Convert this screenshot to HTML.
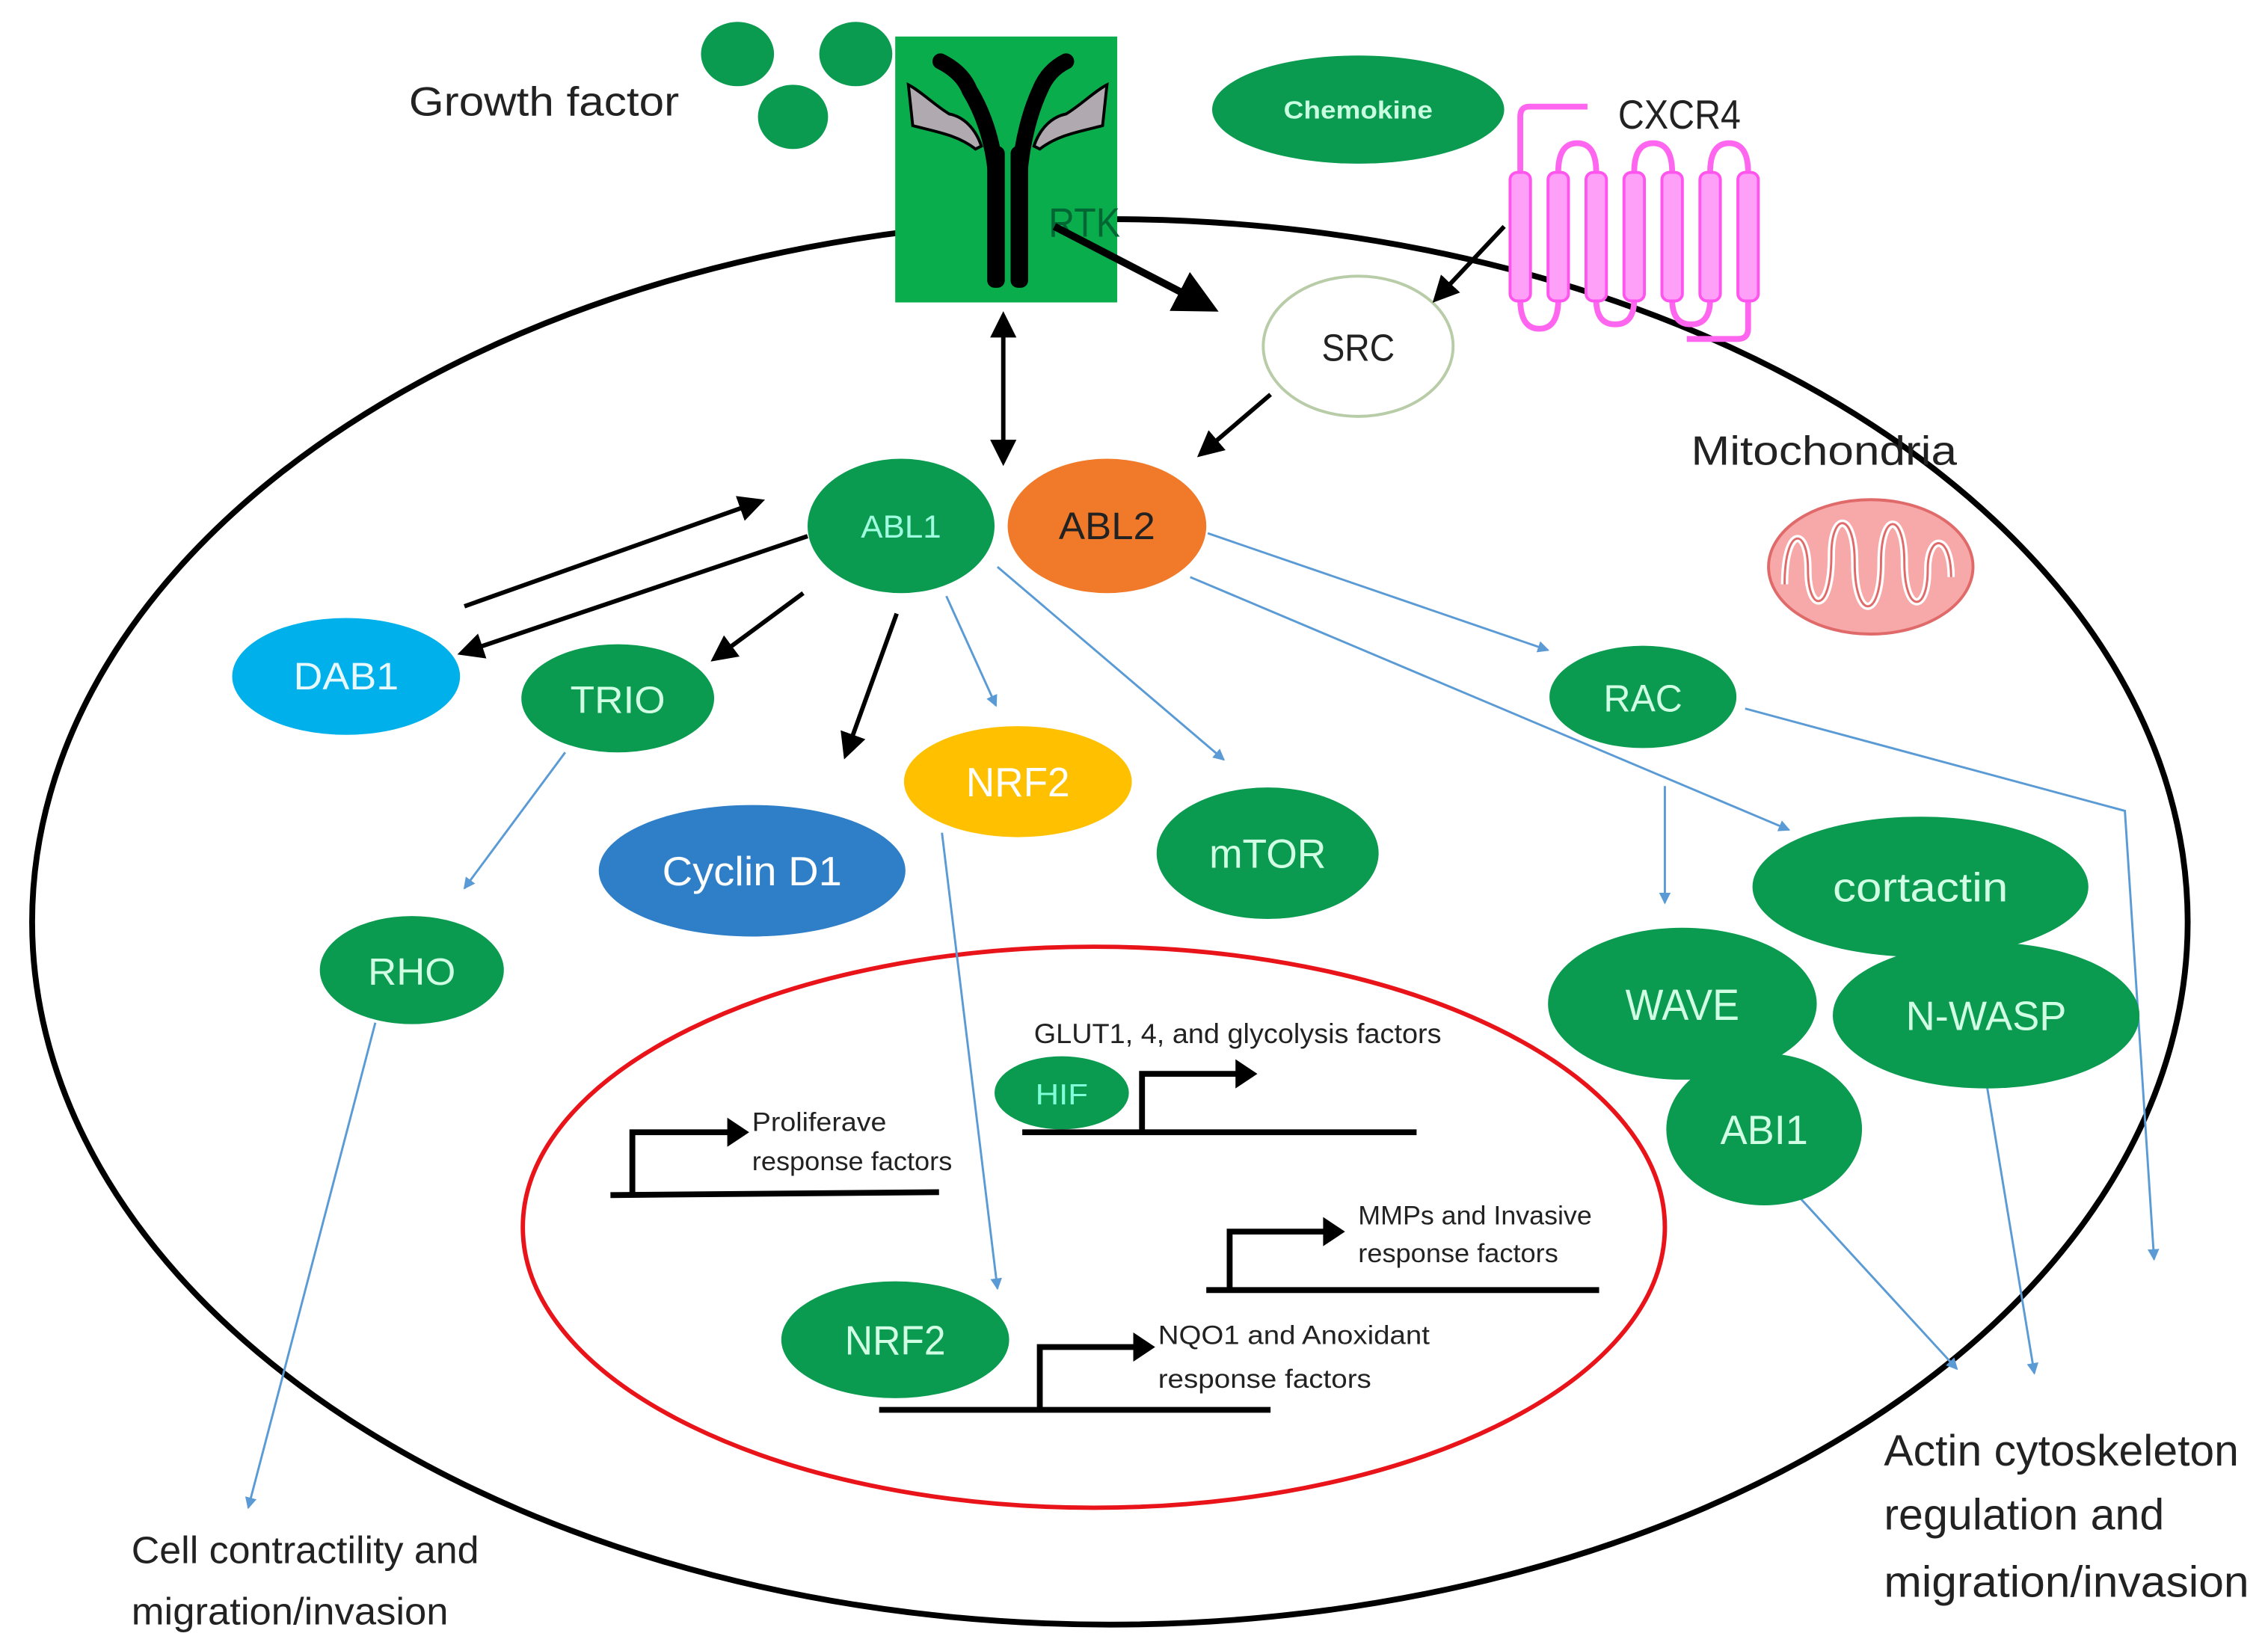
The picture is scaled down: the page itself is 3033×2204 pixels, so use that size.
<!DOCTYPE html>
<html><head><meta charset="utf-8"><style>
html,body{margin:0;padding:0;background:#fff;}
svg{display:block;}
text{font-family:"Liberation Sans Narrow","Liberation Sans",sans-serif;}
</style></head><body>
<svg width="3033" height="2204" viewBox="0 0 1553 1128" preserveAspectRatio="none" xmlns="http://www.w3.org/2000/svg">
<defs>
<marker id="ab" markerWidth="6" markerHeight="6" refX="5" refY="3" orient="auto" markerUnits="strokeWidth"><path d="M0,0 L6,3 L0,6 z" fill="#000"/></marker>
<marker id="ab2" markerWidth="6" markerHeight="6" refX="1" refY="3" orient="auto" markerUnits="strokeWidth"><path d="M6,0 L0,3 L6,6 z" fill="#000"/></marker>
<marker id="bl" markerWidth="8" markerHeight="8" refX="7" refY="4" orient="auto" markerUnits="userSpaceOnUse"><path d="M0,0 L8,4 L0,8 z" fill="#5b9bd5"/></marker>
</defs>
<rect width="1553" height="1128" fill="#fff"/>
<ellipse cx="760" cy="631" rx="738" ry="481" fill="none" stroke="#000" stroke-width="4"/>
<ellipse cx="749" cy="840" rx="391" ry="192" fill="none" stroke="#e8141a" stroke-width="3"/>

<ellipse cx="505" cy="37" rx="25" ry="22" fill="#0a9a50"/>
<ellipse cx="586" cy="37" rx="25" ry="22" fill="#0a9a50"/>
<ellipse cx="543" cy="80" rx="24" ry="22" fill="#0a9a50"/>
<text x="280" y="79" font-size="28" fill="#222" textLength="185" lengthAdjust="spacingAndGlyphs">Growth factor</text>

<rect x="613" y="25" width="152" height="182" fill="#0aad4c"/>
<path d="M622,58 C630,62 640,72 650,78 C660,80 668,88 672,100 L668,102 C655,92 640,90 625,86 Z" fill="#b0aab0" stroke="#000" stroke-width="2"/>
<path d="M758,58 C750,62 740,72 730,78 C720,80 712,88 708,100 L712,102 C725,92 740,90 755,86 Z" fill="#b0aab0" stroke="#000" stroke-width="2"/>
<path d="M682,120 C680,95 672,75 664,62 C660,52 652,46 644,42" fill="none" stroke="#000" stroke-width="11" stroke-linecap="round"/>
<path d="M698,120 C700,95 706,75 712,62 C716,52 722,46 730,42" fill="none" stroke="#000" stroke-width="11" stroke-linecap="round"/>
<rect x="676" y="100" width="12" height="97" rx="5" fill="#000"/>
<rect x="692" y="100" width="12" height="97" rx="5" fill="#000"/>
<text x="718" y="162" font-size="28" fill="#063" textLength="49" lengthAdjust="spacingAndGlyphs">RTK</text>

<ellipse cx="930" cy="75" rx="100" ry="37" fill="#0a9a50"/>
<text x="930" y="81" font-size="17" font-weight="bold" fill="#c8ffe0" text-anchor="middle" textLength="102" lengthAdjust="spacingAndGlyphs">Chemokine</text>
<text x="1108" y="88" font-size="28" fill="#222" textLength="84" lengthAdjust="spacingAndGlyphs">CXCR4</text>
<g fill="none" stroke="#ff66f0" stroke-width="4">
<path d="M1087,73 L1047,73 Q1041,73 1041,80 L1041,118"/>
<path d="M1067,118 Q1067,98 1080,98 Q1093,98 1093,118"/>
<path d="M1119,118 Q1119,98 1132,98 Q1145,98 1145,118"/>
<path d="M1171,118 Q1171,98 1184,98 Q1197,98 1197,118"/>
<path d="M1041,205 Q1041,225 1054,225 Q1067,225 1067,205"/>
<path d="M1093,205 Q1093,222 1106,222 Q1119,222 1119,205"/>
<path d="M1145,205 Q1145,222 1158,222 Q1171,222 1171,205"/>
<path d="M1197,205 L1197,225 Q1197,232 1190,232 L1155,232"/>
</g>
<g fill="#ffa0f8" stroke="#ff55ee" stroke-width="2">
<rect x="1034" y="118" width="14" height="88" rx="5"/>
<rect x="1060" y="118" width="14" height="88" rx="5"/>
<rect x="1086" y="118" width="14" height="88" rx="5"/>
<rect x="1112" y="118" width="14" height="88" rx="5"/>
<rect x="1138" y="118" width="14" height="88" rx="5"/>
<rect x="1164" y="118" width="14" height="88" rx="5"/>
<rect x="1190" y="118" width="14" height="88" rx="5"/>
</g>

<ellipse cx="930" cy="237" rx="65" ry="48" fill="#fff" stroke="#b8cca8" stroke-width="2"/>
<text x="930" y="247" font-size="26" fill="#222" text-anchor="middle" textLength="50" lengthAdjust="spacingAndGlyphs">SRC</text>

<line x1="722" y1="155" x2="830" y2="211" stroke="#000" stroke-width="5" marker-end="url(#ab)"/>
<line x1="1030" y1="155" x2="983" y2="205" stroke="#000" stroke-width="3" marker-end="url(#ab)"/>
<line x1="687" y1="216" x2="687" y2="316" stroke="#000" stroke-width="3" marker-end="url(#ab)" marker-start="url(#ab2)"/>
<line x1="870" y1="270" x2="822" y2="311" stroke="#000" stroke-width="3" marker-end="url(#ab)"/>

<text x="1158" y="318" font-size="28" fill="#222" textLength="182" lengthAdjust="spacingAndGlyphs">Mitochondria</text>
<ellipse cx="1281" cy="388" rx="70" ry="46" fill="#f7a8a8" stroke="#e06a6a" stroke-width="2"/>
<path d="M1222,400 C1222,360 1238,360 1238,390 C1238,420 1254,420 1254,380 C1254,350 1270,350 1270,385 C1270,425 1288,425 1288,385 C1288,350 1304,350 1304,385 C1304,420 1320,420 1320,390 C1320,365 1336,365 1336,395" fill="none" stroke="#fff" stroke-width="5"/>
<path d="M1222,400 C1222,360 1238,360 1238,390 C1238,420 1254,420 1254,380 C1254,350 1270,350 1270,385 C1270,425 1288,425 1288,385 C1288,350 1304,350 1304,385 C1304,420 1320,420 1320,390 C1320,365 1336,365 1336,395" fill="none" stroke="#e06a6a" stroke-width="1.5"/>

<g stroke="#5b9bd5" stroke-width="1.5" fill="none" marker-end="url(#bl)">
<line x1="648" y1="408" x2="682" y2="483"/>
<line x1="683" y1="388" x2="838" y2="520"/>
<line x1="827" y1="365" x2="1060" y2="445"/>
<line x1="815" y1="395" x2="1225" y2="568"/>
<line x1="1140" y1="538" x2="1140" y2="618"/>
<polyline points="1195,485 1455,555 1475,862"/>
<line x1="387" y1="515" x2="318" y2="608"/>
<line x1="257" y1="700" x2="170" y2="1032"/>
<line x1="645" y1="570" x2="683" y2="882"/>
<line x1="1228" y1="815" x2="1340" y2="937"/>
<line x1="1360" y1="740" x2="1393" y2="940"/>
</g>

<g stroke="#000" stroke-width="3" marker-end="url(#ab)">
<line x1="318" y1="415" x2="521" y2="343"/>
<line x1="553" y1="367" x2="316" y2="447"/>
<line x1="550" y1="406" x2="489" y2="451"/>
<line x1="614" y1="420" x2="579" y2="517"/>
</g>

<ellipse cx="617" cy="360" rx="64" ry="46" fill="#0a9a50"/>
<text x="617" y="368" font-size="22" fill="#a0ffe0" text-anchor="middle" textLength="55" lengthAdjust="spacingAndGlyphs">ABL1</text>
<ellipse cx="758" cy="360" rx="68" ry="46" fill="#f07a2a"/>
<text x="758" y="369" font-size="26" fill="#222" text-anchor="middle" textLength="66" lengthAdjust="spacingAndGlyphs">ABL2</text>
<ellipse cx="237" cy="463" rx="78" ry="40" fill="#00b0ea"/>
<text x="237" y="472" font-size="26" fill="#e8f8ff" text-anchor="middle" textLength="72" lengthAdjust="spacingAndGlyphs">DAB1</text>
<ellipse cx="423" cy="478" rx="66" ry="37" fill="#0a9a50"/>
<text x="423" y="488" font-size="26" fill="#d0ffe4" text-anchor="middle" textLength="65" lengthAdjust="spacingAndGlyphs">TRIO</text>
<ellipse cx="515" cy="596" rx="105" ry="45" fill="#2f7fc8"/>
<text x="515" y="606" font-size="28" fill="#fff" text-anchor="middle" textLength="123" lengthAdjust="spacingAndGlyphs">Cyclin D1</text>
<ellipse cx="697" cy="535" rx="78" ry="38" fill="#ffc000"/>
<text x="697" y="545" font-size="28" fill="#fff" text-anchor="middle" textLength="71" lengthAdjust="spacingAndGlyphs">NRF2</text>
<ellipse cx="868" cy="584" rx="76" ry="45" fill="#0a9a50"/>
<text x="868" y="594" font-size="28" fill="#d0ffe4" text-anchor="middle" textLength="80" lengthAdjust="spacingAndGlyphs">mTOR</text>
<ellipse cx="282" cy="664" rx="63" ry="37" fill="#0a9a50"/>
<text x="282" y="674" font-size="26" fill="#d0ffe4" text-anchor="middle" textLength="60" lengthAdjust="spacingAndGlyphs">RHO</text>
<ellipse cx="1125" cy="477" rx="64" ry="35" fill="#0a9a50"/>
<text x="1125" y="487" font-size="26" fill="#d0ffe4" text-anchor="middle" textLength="54" lengthAdjust="spacingAndGlyphs">RAC</text>
<ellipse cx="1315" cy="607" rx="115" ry="48" fill="#0a9a50"/>
<text x="1315" y="617" font-size="28" fill="#d0ffe4" text-anchor="middle" textLength="120" lengthAdjust="spacingAndGlyphs">cortactin</text>
<ellipse cx="1152" cy="687" rx="92" ry="52" fill="#0a9a50"/>
<text x="1152" y="698" font-size="30" fill="#d0ffe4" text-anchor="middle" textLength="78" lengthAdjust="spacingAndGlyphs">WAVE</text>
<ellipse cx="1360" cy="695" rx="105" ry="50" fill="#0a9a50"/>
<text x="1360" y="705" font-size="28" fill="#d0ffe4" text-anchor="middle" textLength="110" lengthAdjust="spacingAndGlyphs">N-WASP</text>
<ellipse cx="1208" cy="773" rx="67" ry="52" fill="#0a9a50"/>
<text x="1208" y="783" font-size="28" fill="#d0ffe4" text-anchor="middle" textLength="60" lengthAdjust="spacingAndGlyphs">ABI1</text>
<ellipse cx="727" cy="748" rx="46" ry="25" fill="#0a9a50"/>
<text x="727" y="756" font-size="20" fill="#80ffd8" text-anchor="middle" textLength="36" lengthAdjust="spacingAndGlyphs">HIF</text>
<ellipse cx="613" cy="917" rx="78" ry="40" fill="#0a9a50"/>
<text x="613" y="927" font-size="28" fill="#d0ffe4" text-anchor="middle" textLength="69" lengthAdjust="spacingAndGlyphs">NRF2</text>

<g stroke="#000" stroke-width="4" fill="none">
<line x1="418" y1="818" x2="643" y2="816"/>
<polyline points="433,817 433,775 500,775"/>
<line x1="700" y1="775" x2="970" y2="775"/>
<polyline points="782,775 782,735 848,735"/>
<line x1="826" y1="883" x2="1095" y2="883"/>
<polyline points="842,883 842,843 908,843"/>
<line x1="602" y1="965" x2="870" y2="965"/>
<polyline points="712,965 712,922 778,922"/>
</g>
<g fill="#000">
<path d="M498,765 L513,775 L498,785 z"/>
<path d="M846,725 L861,735 L846,745 z"/>
<path d="M906,833 L921,843 L906,853 z"/>
<path d="M776,912 L791,922 L776,932 z"/>
</g>
<g font-size="18" fill="#222">
<text x="515" y="774" textLength="92" lengthAdjust="spacingAndGlyphs">Proliferave</text>
<text x="515" y="801" textLength="137" lengthAdjust="spacingAndGlyphs">response factors</text>
<text x="708" y="714" font-size="19" textLength="279" lengthAdjust="spacingAndGlyphs">GLUT1, 4, and glycolysis factors</text>
<text x="930" y="838" textLength="160" lengthAdjust="spacingAndGlyphs">MMPs and Invasive</text>
<text x="930" y="864" textLength="137" lengthAdjust="spacingAndGlyphs">response factors</text>
<text x="793" y="920" textLength="186" lengthAdjust="spacingAndGlyphs">NQO1 and Anoxidant</text>
<text x="793" y="950" textLength="146" lengthAdjust="spacingAndGlyphs">response factors</text>
</g>

<g font-size="26" fill="#222">
<text x="90" y="1070" textLength="238" lengthAdjust="spacingAndGlyphs">Cell contractility and</text>
<text x="90" y="1112" textLength="217" lengthAdjust="spacingAndGlyphs">migration/invasion</text>
</g>
<g font-size="30" fill="#222">
<text x="1290" y="1003" textLength="243" lengthAdjust="spacingAndGlyphs">Actin cytoskeleton</text>
<text x="1290" y="1047" textLength="192" lengthAdjust="spacingAndGlyphs">regulation and</text>
<text x="1290" y="1093" textLength="250" lengthAdjust="spacingAndGlyphs">migration/invasion</text>
</g>
</svg>
</body></html>
